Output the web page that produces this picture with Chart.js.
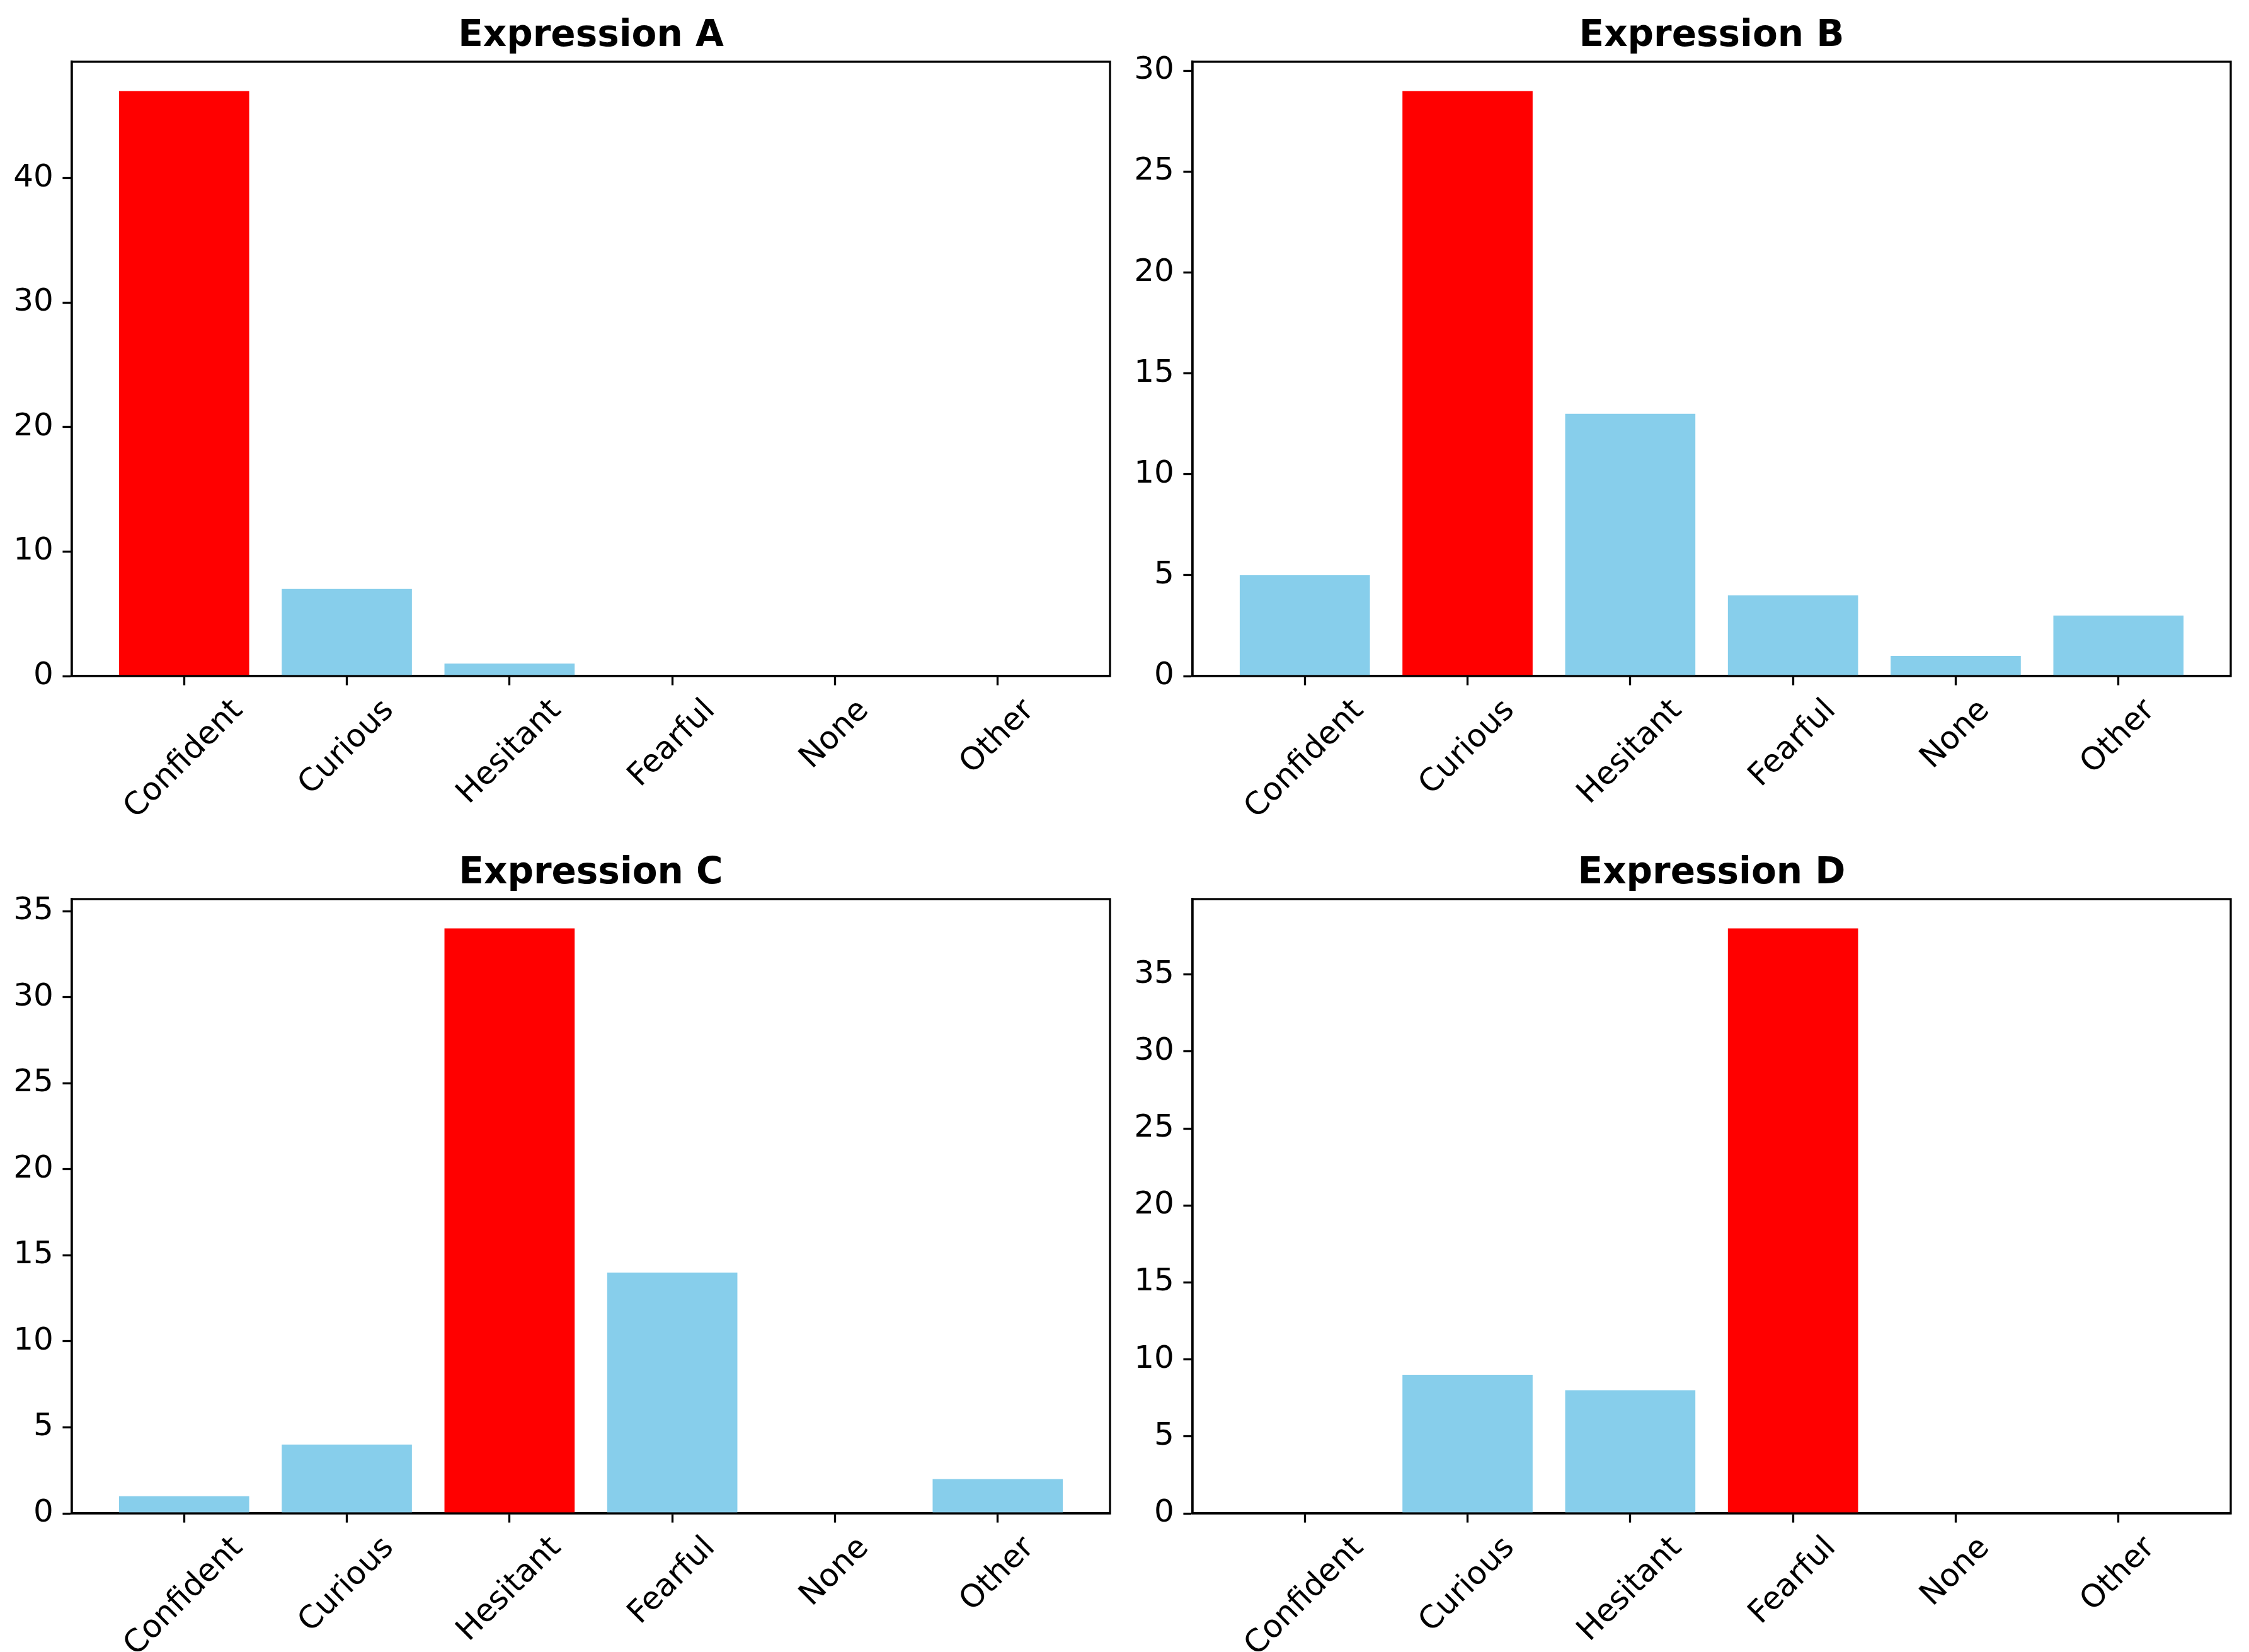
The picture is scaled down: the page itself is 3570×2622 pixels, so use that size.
<!DOCTYPE html>
<html>
<head>
<meta charset="utf-8">
<script src="https://cdn.jsdelivr.net/npm/chart.js@4.4.1/dist/chart.umd.min.js"></script>
<style>
  html, body { margin: 0; padding: 0; background: #fff; }
  #fig { position: relative; width: 3570px; height: 2622px; background: #fff; }
  #fig canvas { position: absolute; }
</style>
</head>
<body>
<div id="fig"></div>
<script>
const categories = ['Confident', 'Curious', 'Hesitant', 'Fearful', 'None', 'Other'];
const titles = ['Expression A', 'Expression B', 'Expression C', 'Expression D'];
const valuesA = [47, 7, 1, 0, 0, 0];
const valuesB = [5, 29, 13, 4, 1, 3];
const valuesC = [1, 4, 34, 14, 0, 2];
const valuesD = [0, 9, 8, 38, 0, 0];
const yTicksA = [0, 10, 20, 30, 40];
const yTicksB = [0, 5, 10, 15, 20, 25, 30];
const yTicksC = [0, 5, 10, 15, 20, 25, 30, 35];
const yTicksD = [0, 5, 10, 15, 20, 25, 30, 35];

// layout (pixels): canvas box on the page, plot area inside the canvas
const panels = [
    { values: valuesA, yTicks: yTicksA, title: titles[0], box: { x: 0, y: 0, w: 1785, h: 1311 }, area: { l: 114, r: 1762, t: 98, b: 1073 } },
    { values: valuesB, yTicks: yTicksB, title: titles[1], box: { x: 1785, y: 0, w: 1785, h: 1311 }, area: { l: 108, r: 1756, t: 98, b: 1073 } },
    { values: valuesC, yTicks: yTicksC, title: titles[2], box: { x: 0, y: 1311, w: 1785, h: 1311 }, area: { l: 114, r: 1762, t: 116, b: 1091 } },
    { values: valuesD, yTicks: yTicksD, title: titles[3], box: { x: 1785, y: 1311, w: 1785, h: 1311 }, area: { l: 108, r: 1756, t: 116, b: 1091 } },
];

const FONT = '"DejaVu Sans", "Liberation Sans", sans-serif';
const LINE = 3.3;      // 0.8pt at 300 dpi
const TICK = 14.6;     // 3.5pt
const PAD = 14.6;
const LABEL_SIZE = 50; // 12pt
const TITLE_SIZE = 58; // 14pt

// matplotlib-like x margins around bars of width 0.8
const xLo = -0.4, xHi = categories.length - 1 + 0.4;
const xMargin = 0.05 * (xHi - xLo);

const framePlugin = {
    id: 'frame',
    afterDatasetsDraw(chart) {
        const { ctx, chartArea: a } = chart;
        ctx.save();
        ctx.strokeStyle = '#000';
        ctx.lineWidth = LINE;
        ctx.strokeRect(a.left, a.top, a.right - a.left, a.bottom - a.top);
        ctx.restore();
    },
    afterDraw(chart) {
        const { ctx, chartArea: a } = chart;
        const opts = chart.options.plugins.frame;
        const xs = chart.scales.x;
        ctx.save();
        ctx.fillStyle = '#000';
        // title
        ctx.font = `bold ${TITLE_SIZE}px ${FONT}`;
        ctx.textAlign = 'center';
        ctx.textBaseline = 'alphabetic';
        ctx.fillText(opts.title, (a.left + a.right) / 2, a.top - 25);
        // rotated category labels, bbox centred under the tick
        ctx.font = `${LABEL_SIZE}px ${FONT}`;
        const h = LABEL_SIZE;
        categories.forEach((c, i) => {
            const w = ctx.measureText(c).width;
            const side = (w + h) / Math.SQRT2;
            const cx = xs.getPixelForValue(i);
            const cy = a.bottom + TICK + PAD + side / 2;
            ctx.save();
            ctx.translate(cx, cy);
            ctx.rotate(-Math.PI / 4);
            ctx.fillText(c, 0, 0.262 * h);
            ctx.restore();
        });
        ctx.restore();
    }
};

const fig = document.getElementById('fig');

panels.forEach(p => {
    const cv = document.createElement('canvas');
    cv.width = p.box.w;
    cv.height = p.box.h;
    cv.style.left = p.box.x + 'px';
    cv.style.top = p.box.y + 'px';
    cv.style.width = p.box.w + 'px';
    cv.style.height = p.box.h + 'px';
    fig.appendChild(cv);

    const max = Math.max(...p.values);
    const gridOpts = {
        display: true, offset: false, drawOnChartArea: false, drawTicks: true,
        tickLength: TICK, tickWidth: LINE, tickColor: '#000'
    };

    new Chart(cv, {
        type: 'bar',
        data: {
            datasets: [{
                data: p.values.map((v, i) => ({ x: i, y: v })),
                backgroundColor: p.values.map(v => (v === max ? '#ff0000' : '#87ceeb')),
                borderWidth: 0,
                barPercentage: 0.8,
                categoryPercentage: 1.0,
            }],
        },
        options: {
            responsive: false,
            animation: false,
            devicePixelRatio: 1,
            layout: { padding: { left: 0, top: p.area.t, right: p.box.w - p.area.r, bottom: 0 } },
            scales: {
                x: {
                    type: 'linear',
                    min: xLo - xMargin,
                    max: xHi + xMargin,
                    offset: false,
                    afterFit: s => { s.height = p.box.h - p.area.b; },
                    afterBuildTicks: s => { s.ticks = categories.map((c, i) => ({ value: i })); },
                    ticks: { display: false },
                    grid: gridOpts,
                    border: { display: true, color: '#000', width: LINE },
                },
                y: {
                    type: 'linear',
                    min: 0,
                    max: max * 1.05,
                    afterFit: s => { s.width = p.area.l; },
                    afterBuildTicks: s => { s.ticks = p.yTicks.map(v => ({ value: v })); },
                    ticks: { color: '#000', padding: PAD, font: { family: FONT, size: LABEL_SIZE } },
                    grid: gridOpts,
                    border: { display: true, color: '#000', width: LINE },
                },
            },
            plugins: {
                legend: { display: false },
                tooltip: { enabled: false },
                title: { display: false },
                frame: { title: p.title },
            },
        },
        plugins: [framePlugin],
    });
});
</script>
</body>
</html>
